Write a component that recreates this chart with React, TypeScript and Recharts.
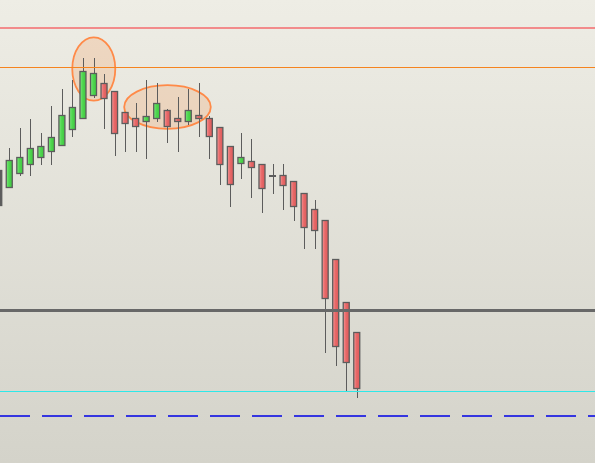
import React from "react";
import {
  ComposedChart,
  Bar,
  XAxis,
  YAxis,
  CartesianGrid,
  ReferenceLine,
  ReferenceDot,
} from "recharts";

// daily candles, oldest first (index = bar number)
const opens = [
  1.2293, 1.2275, 1.2289, 1.2298, 1.2305, 1.2311, 1.2317, 1.2333, 1.2344, 1.2367,
  1.2380, 1.2372, 1.2351, 1.2345, 1.2341, 1.2344, 1.2353, 1.2345, 1.2341, 1.2348,
  1.2345, 1.2336, 1.2317, 1.2299, 1.2302, 1.2299, 1.2287, 1.2288, 1.2282, 1.2270,
  1.2254, 1.2243, 1.2204, 1.2161, 1.2131,
];
const highs = [
  1.2293, 1.2315, 1.2335, 1.2344, 1.2330, 1.2357, 1.2374, 1.2383, 1.2405, 1.2405,
  1.2389, 1.2372, 1.2351, 1.2360, 1.2383, 1.2380, 1.2354, 1.2366, 1.2374, 1.2380,
  1.2347, 1.2336, 1.2317, 1.2330, 1.2324, 1.2299, 1.2299, 1.2299, 1.2282, 1.2270,
  1.2263, 1.2243, 1.2204, 1.2161, 1.2131,
];
const lows = [
  1.2257, 1.2275, 1.2287, 1.2287, 1.2298, 1.2298, 1.2317, 1.2326, 1.2344, 1.2365,
  1.2334, 1.2307, 1.2311, 1.2311, 1.2304, 1.2341, 1.2320, 1.2311, 1.2338, 1.2326,
  1.2304, 1.2278, 1.2256, 1.2284, 1.2265, 1.2250, 1.2269, 1.2253, 1.2242, 1.2214,
  1.2214, 1.2110, 1.2097, 1.2072, 1.2065,
];
const closes = [
  1.2257, 1.2303, 1.2306, 1.2315, 1.2317, 1.2326, 1.2348, 1.2356, 1.2392, 1.2390,
  1.2364, 1.2329, 1.2339, 1.2336, 1.2347, 1.2360, 1.2336, 1.2341, 1.2353, 1.2344,
  1.2326, 1.2298, 1.2278, 1.2306, 1.2295, 1.2274, 1.2287, 1.2277, 1.2256, 1.2235,
  1.2232, 1.2164, 1.2116, 1.2100, 1.2074,
];

// horizontal levels
const levelRed = 1.2435;
const levelOrange = 1.23955;
const levelSupport = 1.21525;
const levelCyan = 1.20715;
const levelBlue = 1.2047;

// highlighted zones (bar index, price)
const markX = [9, 16];
const markY = [1.2394, 1.2356];
const markRx = [21.5, 43.3];
const markRy = [31.7, 21.8];

const data = opens.map((o, i) => ({
  idx: i,
  open: o,
  high: highs[i],
  low: lows[i],
  close: closes[i],
}));

const EDGE = "#5c5c5c";

function Candle(props: any) {
  const { x, y, width, height, payload, index } = props;
  if (!payload || x == null || y == null) return null;
  const top = Math.min(y, y + height);
  const h = Math.abs(height);
  const span = payload.high - payload.low;
  const k = span > 0 ? h / span : 0;
  const cx = x + width / 2;
  const hiBody = Math.max(payload.open, payload.close);
  const loBody = Math.min(payload.open, payload.close);
  const y1 = top + (payload.high - hiBody) * k;
  const y2 = top + (payload.high - loBody) * k;
  const up = payload.close > payload.open;
  const flat = payload.close === payload.open;
  const wx = Math.round(cx) + 0.5;
  // first bar is cut by the left edge: only its border shows
  const fill = index === 0 ? EDGE : up ? "url(#candleUp)" : "url(#candleDown)";

  return (
    <g>
      <line x1={wx} x2={wx} y1={top} y2={top + h} stroke={EDGE} strokeWidth={1} />
      {flat ? (
        <rect x={x - 0.5} y={y1 - 1} width={width + 1} height={2} fill={EDGE} />
      ) : (
        <rect
          x={x}
          y={y1 + 0.5}
          width={width}
          height={Math.max(y2 - y1 - 1, 1)}
          fill={fill}
          stroke={EDGE}
          strokeWidth={1.3}
        />
      )}
    </g>
  );
}

function Zone(props: any) {
  const { cx, cy, rx, ry } = props;
  if (cx == null || cy == null) return null;
  return (
    <ellipse
      cx={cx}
      cy={cy}
      rx={rx}
      ry={ry}
      fill="#f59a5a"
      fillOpacity={0.25}
      stroke="#ff8a48"
      strokeWidth={1.8}
    />
  );
}

export default function App() {
  return (
    <div style={{ position: "absolute", left: 0, top: 0, width: 595, height: 463 }}>
      <ComposedChart
        width={595}
        height={463}
        data={data}
        margin={{ top: 0, right: 0, bottom: 0, left: 0 }}
      >
        <defs>
          <linearGradient id="bgGrad" x1="0" y1="0" x2="0" y2="1">
            <stop offset="0%" stopColor="#eeede5" />
            <stop offset="100%" stopColor="#d4d3ca" />
          </linearGradient>
          <linearGradient id="candleUp" x1="0" y1="0" x2="1" y2="0">
            <stop offset="0%" stopColor="#7de87d" />
            <stop offset="45%" stopColor="#4fd64f" />
            <stop offset="100%" stopColor="#3fc83f" />
          </linearGradient>
          <linearGradient id="candleDown" x1="0" y1="0" x2="1" y2="0">
            <stop offset="0%" stopColor="#f49a9a" />
            <stop offset="45%" stopColor="#e86868" />
            <stop offset="100%" stopColor="#dc5a5a" />
          </linearGradient>
        </defs>
        <CartesianGrid horizontal={false} vertical={false} fill="url(#bgGrad)" fillOpacity={1} />
        <XAxis
          dataKey="idx"
          type="number"
          domain={[0.095, 56.6]}
          allowDataOverflow
          hide
        />
        <YAxis type="number" domain={[1.2, 1.2463]} allowDataOverflow hide />

        <ReferenceLine y={levelRed} stroke="#f28b8b" strokeWidth={2} />
        <ReferenceLine y={levelOrange} stroke="#f5841f" strokeWidth={1} />
        <ReferenceLine y={levelSupport} stroke="#686868" strokeWidth={3} />
        <ReferenceLine y={levelCyan} stroke="#2ee8e8" strokeWidth={1} />
        <ReferenceLine
          y={levelBlue}
          stroke="#3535e0"
          strokeWidth={2}
          strokeDasharray="30 12"
        />

        {markX.map((mx, i) => (
          <ReferenceDot
            key={`zone-${i}`}
            x={mx}
            y={markY[i]}
            r={1}
            ifOverflow="visible"
            zIndex={0}
            shape={(p: any) => <Zone {...p} rx={markRx[i]} ry={markRy[i]} />}
          />
        ))}

        <Bar
          dataKey={(d: any) => [d.low, d.high]}
          barSize={6}
          shape={<Candle />}
          isAnimationActive={false}
        />
      </ComposedChart>
    </div>
  );
}
